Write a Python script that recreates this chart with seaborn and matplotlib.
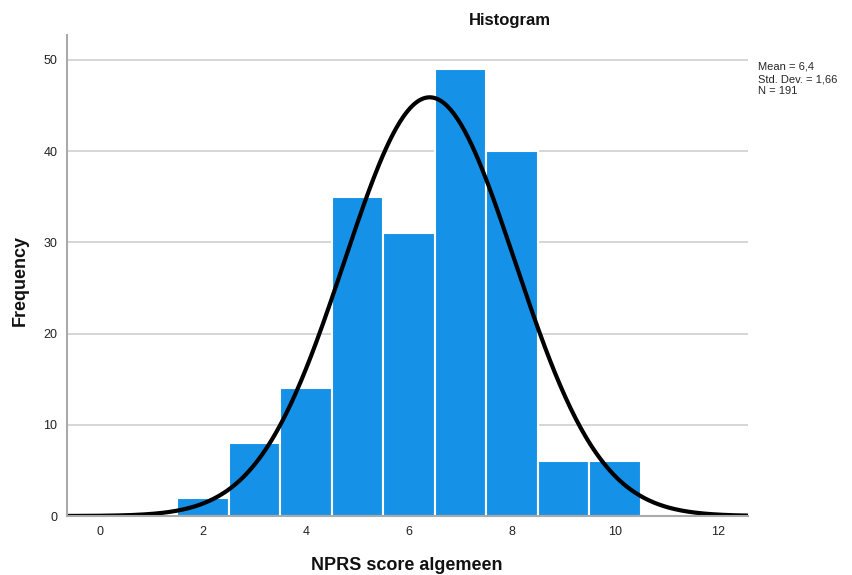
import matplotlib
matplotlib.use("Agg", force=True)
import matplotlib.pyplot as plt
import numpy as np
import pandas as pd
import seaborn as sns

# NPRS scores and their frequencies
SCORES = [2, 3, 4, 5, 6, 7, 8, 9, 10]
COUNTS = [2, 8, 14, 35, 31, 49, 40, 6, 6]
MEAN = 6.4
STD = 1.66
N = 191

BAR_COLOR = "#1591E8"


def main() -> None:
    sns.set_style("white")
    plt.rcParams["font.family"] = ["Liberation Sans", "DejaVu Sans"]

    df = pd.DataFrame({"score": SCORES, "count": COUNTS})

    fig = plt.figure(figsize=(8.52, 5.75), dpi=100)
    ax = fig.add_axes([0.0786, 0.1026, 0.7994, 0.836])

    ax.yaxis.grid(True, color="#d0d0d0", linewidth=1.2)
    ax.set_axisbelow(True)

    sns.histplot(
        data=df, x="score", weights="count", discrete=True,
        color=BAR_COLOR, alpha=1, edgecolor="white", linewidth=1.5, ax=ax,
    )

    # normal curve scaled to frequency (N * bin width)
    xs = np.linspace(-0.64, 12.58, 400)
    ys = N * np.exp(-0.5 * ((xs - MEAN) / STD) ** 2) / (STD * np.sqrt(2 * np.pi))
    sns.lineplot(x=xs, y=ys, color="black", linewidth=3, ax=ax)

    ax.set_xlim(-0.64, 12.58)
    ax.set_ylim(0, 52.7)
    ax.set_xticks(range(0, 13, 2))
    ax.set_yticks(range(0, 51, 10))
    ax.tick_params(length=0, labelsize=9, colors="#222222", pad=7)

    for side in ["top", "right"]:
        ax.spines[side].set_visible(False)
    for side in ["left", "bottom"]:
        ax.spines[side].set_color("#aaaaaa")
        ax.spines[side].set_linewidth(1.5)

    ax.set_xlabel("")
    ax.set_ylabel("")
    fig.text(407 / 852, 1 - 565 / 575, "NPRS score algemeen", ha="center", va="center",
             fontsize=13, fontweight="bold", color="#111111")
    fig.text(20 / 852, 1 - 280 / 575, "Frequency", ha="center", va="center", rotation=90,
             fontsize=13, fontweight="bold", color="#111111")

    fig.text(510 / 852, 1 - 20 / 575, "Histogram", ha="center", va="center",
             fontsize=12, fontweight="bold", color="#111111")
    fig.text(758 / 852, 1 - 79 / 575, f"Mean = 6,4\nStd. Dev. = 1,66\nN = {N}",
             ha="left", va="center", fontsize=8, linespacing=1.3)

    fig.savefig("out.png", dpi=100)
    plt.close(fig)


if __name__ == "__main__":
    main()
